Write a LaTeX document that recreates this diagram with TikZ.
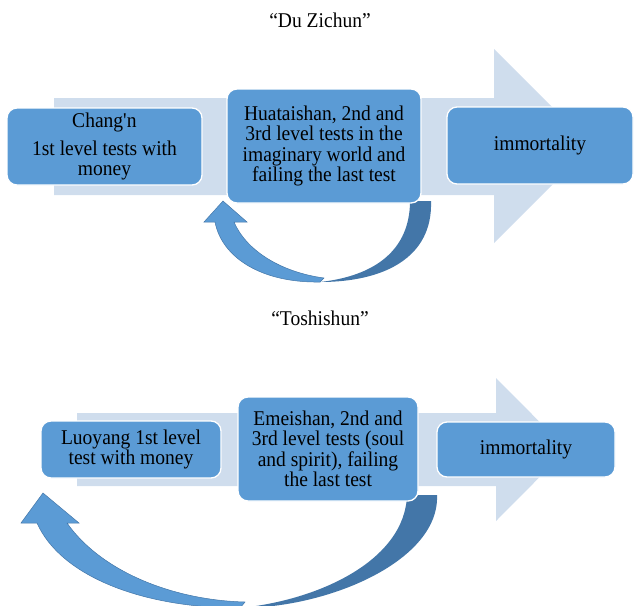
\documentclass[tikz,border=0pt]{standalone}
\usepackage{fontspec}
\setmainfont{Liberation Serif}[FakeStretch=0.93]
\usepackage{xcolor}
\usepackage{tikz}
\usetikzlibrary{positioning}
\definecolor{stagecolor}{RGB}{91,155,213}
\definecolor{bandcolor}{RGB}{207,221,237}
\definecolor{backcolor}{RGB}{67,118,168}

\begin{document}
\begin{tikzpicture}[
    x=1pt, y=-1pt,
    stage/.style={draw=white, line width=1.3pt, fill=stagecolor, rounded corners=10pt, align=center, inner sep=2pt, font=\fontsize{21}{20.5}\selectfont},
    title/.style={font=\fontsize{21}{20.5}\selectfont},
    band/.style={fill=bandcolor},
    turnfront/.style={fill=stagecolor, draw=backcolor, line width=0.5pt},
    turnback/.style={fill=backcolor}
]
    \useasboundingbox (0,0) rectangle (634,605);

    % "Du Zichun"
    \node[title] (title1) at (320,20) {“Du Zichun”};
    \fill[band] (54,98) -- (494,98) -- (494,49) -- (591,146) -- (494,243) -- (494,195) -- (54,195) -- cycle;
    \fill[turnback] (410,201) -- (431,201) .. controls (433,257) and (385,282) .. (320,282)
        .. controls (375,276) and (410,250) .. (410,201) -- cycle;
    \filldraw[turnfront] (223,201) -- (247,222) -- (234,222) .. controls (246,250) and (280,272) .. (324,278)
        -- (320,282) .. controls (262,283) and (222,258) .. (215,222) -- (204,222) -- cycle;
    \node[stage, minimum width=195, minimum height=77] (changan) at (104.5,146.5)
        {Chang\textquotesingle n\\[7pt] 1st level tests with\\ money};
    \node[stage, minimum width=194, minimum height=114] (huatai) at (324,146)
        {Huataishan, 2nd and\\ 3rd level tests in the\\ imaginary world and\\ failing the last test};
    \node[stage, minimum width=186, minimum height=77] (immortal1) at (540,145.5) {immortality};

    % "Toshishun"
    \node[title] (title2) at (320,318) {“Toshishun”};
    \fill[band] (77,413) -- (496,413) -- (496,378) -- (567,449.5) -- (496,521) -- (496,486) -- (77,486) -- cycle;
    \fill[turnback] (407,495) -- (437,495) .. controls (440,560) and (330,608) .. (240,608)
        .. controls (320,600) and (405,560) .. (407,495) -- cycle;
    \filldraw[turnfront] (43,493) -- (79,523) -- (67,523) .. controls (100,570) and (170,600) .. (245,602)
        -- (240,608) .. controls (140,608) and (60,575) .. (37,523) -- (21,523) -- cycle;
    \node[stage, minimum width=180, minimum height=57] (luoyang) at (131,449.5)
        {Luoyang 1st level\\ test with money};
    \node[stage, minimum width=180, minimum height=104] (emei) at (328,449)
        {Emeishan, 2nd and\\ 3rd level tests (soul\\ and spirit), failing\\ the last test};
    \node[stage, minimum width=178, minimum height=55] (immortal2) at (526,449.5) {immortality};
\end{tikzpicture}
\end{document}
